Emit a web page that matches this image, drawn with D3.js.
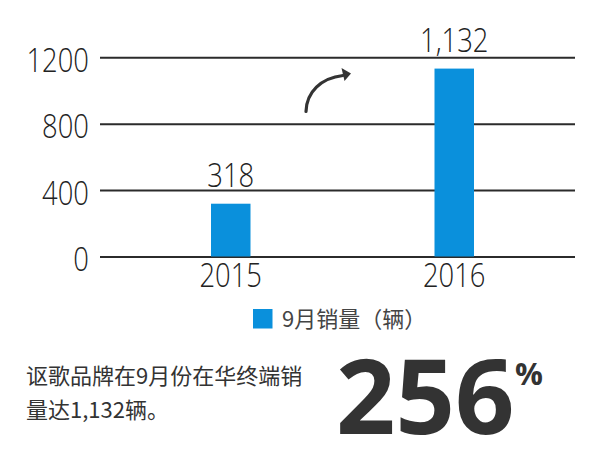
<!DOCTYPE html>
<html>
<head>
<meta charset="utf-8">
<script src="https://cdn.jsdelivr.net/npm/d3@7"></script>
<style>
  html, body { margin: 0; padding: 0; background: #fff; }
  svg { display: block; }
</style>
</head>
<body>
<svg id="chart" width="600" height="450"></svg>
<script>
// ---- data ----
const categories = ["2015", "2016"];
const values = [318, 1132];
const valueLabels = ["318", "1,132"];
const yTicks = [0, 400, 800, 1200];
const legendLabel = "9月销量（辆）";
const noteLines = ["讴歌品牌在9月份在华终端销", "量达1,132辆。"];
const growth = "256";
const growthUnit = "%";

// ---- setup ----
const svg = d3.select("#chart");
const BLUE = "#0a90dc";
const DARK = "#2b2b2b";
const numFont = "'Open Sans', 'Segoe UI', sans-serif";
const cjkFont = "'Noto Sans CJK SC', 'Noto Sans', sans-serif";

const gridLeft = 100, gridRight = 575;
const y = d3.scaleLinear().domain([0, 1200]).range([256.5, 57.3]);
const x = d3.scaleBand().domain(categories).range([119, 566]).padding(0);
const barW = 39.5;
const cx = d => x(d) + x.bandwidth() / 2;

// ---- y axis / gridlines ----
const yAxis = d3.axisLeft(y).tickValues(yTicks).tickSize(-(gridRight - gridLeft)).tickPadding(0).tickFormat(d3.format("d"));
const gy = svg.append("g").attr("transform", `translate(${gridLeft},0)`).call(yAxis);
gy.select(".domain").remove();
gy.selectAll(".tick line").attr("stroke", DARK).attr("stroke-width", 2);
gy.selectAll(".tick text")
  .attr("x", null).attr("dy", null)
  .attr("transform", "translate(-11,14) scale(0.83,1)")
  .attr("fill", "#222")
  .style("font-family", numFont)
  .style("font-weight", 300)
  .style("font-size", "33px")
  .attr("text-anchor", "end");

// ---- bars ----
svg.append("g").selectAll("rect")
  .data(values)
  .join("rect")
  .attr("x", (d, i) => cx(categories[i]) - barW / 2)
  .attr("y", d => y(d))
  .attr("width", barW)
  .attr("height", d => y(0) - y(d))
  .attr("fill", BLUE);

// ---- value labels ----
svg.append("g").selectAll("text")
  .data(values)
  .join("text")
  .attr("transform", (d, i) => `translate(${cx(categories[i])},${y(d) - 17}) scale(0.83,1)`)
  .attr("text-anchor", "middle")
  .attr("fill", "#222")
  .style("font-family", numFont)
  .style("font-weight", 300)
  .style("font-size", "33px")
  .text((d, i) => valueLabels[i]);

// ---- x labels ----
svg.append("g").selectAll("text")
  .data(categories)
  .join("text")
  .attr("transform", d => `translate(${cx(d)},286.5) scale(0.83,1)`)
  .attr("text-anchor", "middle")
  .attr("fill", "#222")
  .style("font-family", numFont)
  .style("font-weight", 300)
  .style("font-size", "33px")
  .text(d => d);

// ---- curved arrow ----
svg.append("path")
  .attr("d", "M306,111.5 C306.5,92 321,78 343,75.5")
  .attr("fill", "none")
  .attr("stroke", "#333")
  .attr("stroke-width", 3.2)
  .attr("stroke-linecap", "round");
svg.append("path")
  .attr("d", "M351,73.5 L341.5,68 L344.5,81 Z")
  .attr("fill", "#333");

// ---- legend ----
const lg = svg.append("g");
lg.append("rect").attr("x", 253).attr("y", 309).attr("width", 19.5).attr("height", 19.5).attr("fill", BLUE);
lg.append("text")
  .attr("x", 282).attr("y", 327)
  .attr("fill", "#444")
  .style("font-family", cjkFont)
  .style("font-size", "22px")
  .text(legendLabel);

// ---- note ----
svg.append("g").selectAll("text")
  .data(noteLines)
  .join("text")
  .attr("x", 26)
  .attr("y", (d, i) => 384 + i * 34)
  .attr("fill", "#333")
  .style("font-family", cjkFont)
  .style("font-size", "22px")
  .text(d => d);

// ---- big number ----
svg.append("text")
  .attr("x", 336).attr("y", 433.5)
  .attr("fill", "#333")
  .style("font-family", numFont)
  .style("font-weight", 700)
  .style("font-size", "104px")
  .text(growth);
svg.append("text")
  .attr("x", 515).attr("y", 385)
  .attr("fill", "#333")
  .style("font-family", numFont)
  .style("font-weight", 700)
  .style("font-size", "31px")
  .text(growthUnit);
</script>
</body>
</html>
